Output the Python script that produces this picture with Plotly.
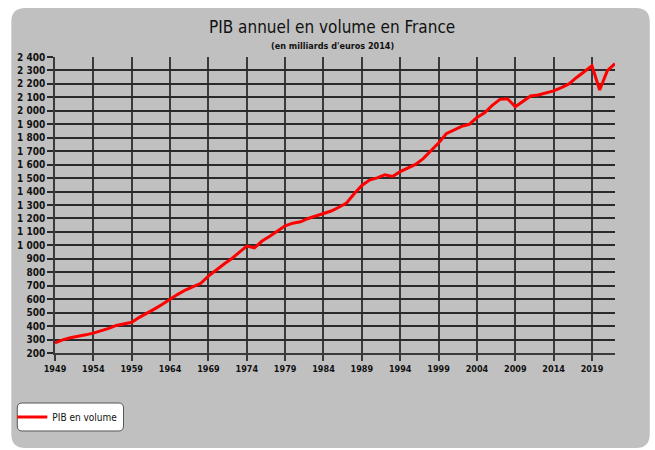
import plotly.graph_objects as go

years = list(range(1949, 2023))
pib = [275, 298, 314, 322, 335, 348, 365, 383, 405, 415,
       428, 465, 495, 528, 562, 600, 636, 668, 695, 718,
       772, 818, 860, 900, 950, 995, 982, 1032, 1068, 1108,
       1145, 1165, 1175, 1200, 1217, 1235, 1255, 1283, 1315, 1383,
       1445, 1485, 1502, 1525, 1512, 1548, 1572, 1602, 1645, 1705,
       1760, 1830, 1860, 1885, 1900, 1950, 1985, 2040, 2085, 2090,
       2030, 2068, 2110, 2118, 2132, 2148, 2172, 2200, 2248, 2292,
       2335, 2155, 2298, 2350]

x_tickvals = list(range(1949, 2020, 5))
x_ticktext = [str(v) for v in x_tickvals]
y_tickvals = list(range(200, 2401, 100))
y_ticktext = ["200", "300", "400", "500", "600", "700", "800", "900", "1 000",
              "1 100", "1 200", "1 300", "1 400", "1 500", "1 600", "1 700", "1 800",
              "1 900", "2 000", "2 100", "2 200", "2 300", "2 400"]

title = "PIB annuel en volume en France"
subtitle = "(en milliards d'euros 2014)"
series_name = "PIB en volume"

W, H = 655, 450
L, R, T, B = 51, 40, 57, 97
pw, ph = W - L - R, H - T - B

def px_x(px):
    return (px - L) / pw

def px_y(py):
    return (H - B - py) / ph

def rounded(x0, y0, x1, y1, r):
    def P(x, y):
        return f"{px_x(x):.5f},{px_y(y):.5f}"
    return (f"M {P(x0 + r, y0)} L {P(x1 - r, y0)} Q {P(x1, y0)} {P(x1, y0 + r)} "
            f"L {P(x1, y1 - r)} Q {P(x1, y1)} {P(x1 - r, y1)} "
            f"L {P(x0 + r, y1)} Q {P(x0, y1)} {P(x0, y1 - r)} "
            f"L {P(x0, y0 + r)} Q {P(x0, y0)} {P(x0 + r, y0)} Z")

NARROW = "DejaVu Sans Condensed, Liberation Sans Narrow, Arial Narrow, sans-serif"
GRAY = "#c0c0c0"

fig = go.Figure()
fig.add_trace(go.Scatter(x=years, y=pib, mode="lines", name=series_name,
                         line=dict(color="#ff0000", width=3)))

fig.update_layout(
    width=W, height=H,
    margin=dict(l=L, r=R, t=T, b=B),
    paper_bgcolor="white",
    plot_bgcolor=GRAY,
    showlegend=True,
    legend=dict(x=px_x(8), y=px_y(417), xanchor="left", yanchor="middle",
                bgcolor="rgba(0,0,0,0)", borderwidth=0,
                font=dict(family=NARROW, size=10, color="#111")),
    shapes=[
        dict(type="path", xref="paper", yref="paper", path=rounded(7, 8, 650, 448, 14),
             fillcolor=GRAY, line=dict(width=0), layer="below"),
        dict(type="path", xref="paper", yref="paper", path=rounded(13, 403, 120, 431, 5),
             fillcolor="white", line=dict(color="#555", width=1), layer="below"),
    ],
    annotations=[
        dict(text=title, xref="paper", yref="paper", x=px_x(330), y=px_y(27),
             showarrow=False, xanchor="center", yanchor="middle",
             font=dict(family=NARROW, size=17, color="#111")),
        dict(text="<b>" + subtitle + "</b>", xref="paper", yref="paper", x=px_x(330), y=px_y(46),
             showarrow=False, xanchor="center", yanchor="middle",
             font=dict(family=NARROW, size=9, color="#111")),
    ],
)

fig.update_xaxes(range=[1949, 2022], tickvals=x_tickvals, ticktext=x_ticktext,
                 showgrid=True, gridcolor="#3a3a3a", gridwidth=1.5,
                 showline=True, linecolor="#3a3a3a", linewidth=1.5,
                 ticks="outside", ticklen=6, tickcolor="#3a3a3a", tickwidth=1.5,
                 tickfont=dict(family=NARROW, size=9, color="#111", weight="bold"),
                 zeroline=False, fixedrange=True)
fig.update_yaxes(range=[200, 2400], tickvals=y_tickvals, ticktext=y_ticktext,
                 showgrid=True, gridcolor="#2a2a2a", gridwidth=1.8,
                 showline=True, linecolor="#3a3a3a", linewidth=1.5,
                 ticks="outside", ticklen=6, tickcolor="#2a2a2a", tickwidth=1.5,
                 tickfont=dict(family=NARROW, size=10, color="#111", weight="bold"),
                 zeroline=False, fixedrange=True)

fig.write_html("out.html", config={"displayModeBar": False},
               post_script="document.body.style.margin='0';document.body.style.overflow='hidden';")
